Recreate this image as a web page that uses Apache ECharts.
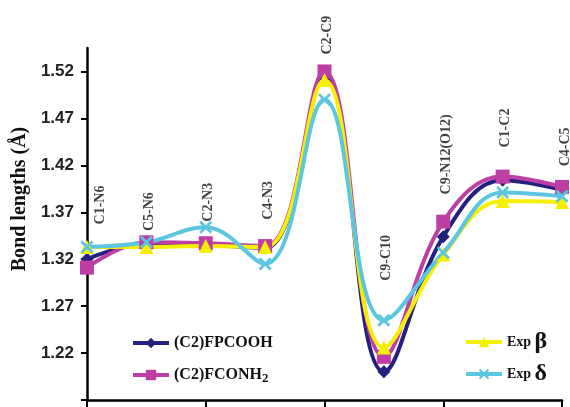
<!DOCTYPE html>
<html>
<head>
<meta charset="utf-8">
<script src="https://cdn.jsdelivr.net/npm/echarts@6/dist/echarts.min.js"></script>
<style>html,body{margin:0;padding:0;background:#fff}#c{width:570px;height:407px}</style>
</head>
<body>
<div id="c"></div>
<script>
var categories = ['C1-N6','C5-N6','C2-N3','C4-N3','C2-C9','C9-C10','C9-N12(O12)','C1-C2','C4-C5'];
var fpcooh   = [1.320, 1.336, 1.335, 1.332, 1.515, 1.200, 1.344, 1.404, 1.394];
var fconh2   = [1.311, 1.338, 1.337, 1.334, 1.520, 1.216, 1.360, 1.408, 1.397];
var expBeta  = [1.333, 1.333, 1.334, 1.333, 1.511, 1.226, 1.325, 1.382, 1.381];
var expDelta = [1.333, 1.338, 1.354, 1.315, 1.490, 1.255, 1.327, 1.391, 1.387];
// where each bond's vertical caption starts (axis units)
var captionLevels = [1.357, 1.350, 1.360, 1.362, 1.538, 1.297, 1.389, 1.439, 1.419];
var yTickLabels = [1.22, 1.27, 1.32, 1.37, 1.42, 1.47, 1.52];
var yTicks = [1.17, 1.22, 1.27, 1.32, 1.37, 1.42, 1.47, 1.52];

var crossPath = 'path://M0,1.5L1.5,0L5,3.5L8.5,0L10,1.5L6.5,5L10,8.5L8.5,10L5,6.5L1.5,10L0,8.5L3.5,5Z';
var serif = 'Liberation Serif';

function lineSeries(name, data, color, symbol, size) {
  return {
    name: name, type: 'line', data: data, smooth: 0.4,
    symbol: symbol, symbolSize: size, showAllSymbol: true,
    lineStyle: {color: color, width: 4},
    itemStyle: {color: color},
    emphasis: {disabled: true}
  };
}

var chart = echarts.init(document.getElementById('c'), null, {renderer: 'canvas'});
chart.setOption({
  animation: false,
  grid: {left: 87, right: 8, top: 48, bottom: 7, containLabel: false},
  xAxis: {
    type: 'category', data: categories, boundaryGap: false,
    axisLine: {lineStyle: {color: '#000', width: 2.5}},
    axisTick: {show: true, interval: 1, length: 7, lineStyle: {color: '#000', width: 2}},
    axisLabel: {show: false},
    splitLine: {show: false}
  },
  yAxis: {
    type: 'value', min: 1.17, max: 1.545,
    name: 'Bond lengths (Å)', nameLocation: 'middle', nameGap: 52, nameRotate: 90,
    nameTextStyle: {fontFamily: serif, fontWeight: 'bold', fontSize: 20, color: '#111', padding: [0, 0, 0, 50]},
    axisLine: {show: true, lineStyle: {color: '#000', width: 2.5}},
    axisTick: {show: true, length: 6, customValues: yTicks, lineStyle: {color: '#000', width: 2}},
    axisLabel: {customValues: yTickLabels, margin: 13, fontFamily: 'Liberation Sans', fontWeight: 'bold', fontSize: 17, color: '#222',
      formatter: function (v) { return v.toFixed(2); }},
    splitLine: {show: false}
  },
  legend: [
    {
      data: ['(C2)FPCOOH', '(C2)FCONH2'], orient: 'vertical', left: 126, top: 327,
      itemWidth: 36, itemHeight: 13, itemGap: 10,
      lineStyle: {width: 4},
      textStyle: {fontFamily: serif, fontWeight: 'bold', fontSize: 16, color: '#111', lineHeight: 22,
        rich: {sub: {fontFamily: serif, fontWeight: 'bold', fontSize: 13, color: '#111', padding: [8, 0, 0, 0]}}},
      formatter: function (n) { return n === '(C2)FCONH2' ? '(C2)FCONH{sub|2}' : n; }
    },
    {
      data: ['Exp β', 'Exp δ'], orient: 'vertical', left: 459, top: 325,
      itemWidth: 36, itemHeight: 13, itemGap: 8,
      lineStyle: {width: 4},
      textStyle: {fontFamily: serif, fontWeight: 'bold', fontSize: 14, color: '#111', lineHeight: 24,
        rich: {g: {fontFamily: serif, fontSize: 24, color: '#111'}}},
      formatter: function (n) { return n === 'Exp β' ? 'Exp {g|β}' : 'Exp {g|δ}'; }
    }
  ],
  series: [
    lineSeries('(C2)FPCOOH', fpcooh, '#25207f', 'diamond', 13),
    lineSeries('(C2)FCONH2', fconh2, '#bd3ea4', 'rect', 14),
    lineSeries('Exp β', expBeta, '#f5ef00', 'triangle', 14),
    lineSeries('Exp δ', expDelta, '#5cc6e0', crossPath, 13),
    {
      name: 'captions', type: 'scatter', data: captionLevels.map(function (v, i) {
        return i === 0 ? {value: v, label: {offset: [0, 13]}} : {value: v, label: {offset: [0, 3]}};
      }),
      symbol: 'circle', symbolSize: 1, itemStyle: {color: 'rgba(0,0,0,0)'}, silent: true, z: 5,
      label: {show: true, position: 'inside', rotate: 90, align: 'left', verticalAlign: 'middle',
        fontFamily: serif, fontWeight: 'bold', fontSize: 14, color: '#111',
        formatter: function (p) { return categories[p.dataIndex]; }}
    }
  ]
});
</script>
</body>
</html>
